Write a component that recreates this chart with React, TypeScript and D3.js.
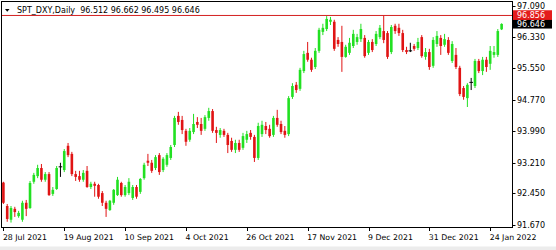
import React from 'react';
import * as d3 from 'd3';

const opens = [
  92.72, 92.14, 91.80, 92.07, 91.89, 91.80, 92.22, 92.09, 92.74, 92.88,
  93.08, 92.79, 92.93, 92.44, 92.56, 93.11, 93.03, 93.63, 93.43, 92.93,
  92.88, 92.79, 93.01, 92.61, 92.69, 92.66, 92.46, 92.22, 92.04, 92.22,
  92.41, 92.71, 92.41, 92.46, 92.34, 92.61, 92.49, 92.83, 93.26, 93.21,
  93.08, 93.40, 93.03, 93.16, 93.33, 93.65, 94.37, 94.27, 94.00, 93.78,
  93.97, 94.22, 94.17, 94.05, 94.32, 94.49, 94.02, 93.90, 94.00, 93.90,
  93.75, 93.53, 93.70, 93.58, 93.78, 93.95, 93.85, 93.33, 93.92, 94.12,
  94.05, 93.90, 94.32, 94.17, 94.00, 93.92, 94.84, 95.14, 95.04, 95.48,
  95.93, 95.76, 95.58, 95.98, 96.45, 96.52, 96.70, 96.70, 96.25, 96.20,
  95.83, 95.93, 96.10, 96.20, 96.27, 96.30, 95.93, 96.20, 96.15, 96.32,
  96.47, 96.42, 95.95, 96.60, 96.55, 96.42, 96.00, 95.98, 96.10, 96.05,
  96.32, 95.83, 95.95, 95.61, 96.15, 96.30, 96.13, 96.25, 95.73, 95.88,
  95.56, 95.06, 94.81, 95.20, 95.11, 95.73, 95.48, 95.76, 95.66, 95.88,
  95.88, 96.512,
];
const highs = [
  92.74, 92.19, 92.14, 92.12, 92.02, 92.27, 92.29, 92.76, 92.96, 93.16,
  93.18, 92.98, 92.98, 92.61, 93.13, 93.21, 93.55, 93.70, 93.48, 93.01,
  93.01, 93.03, 93.13, 92.74, 92.74, 92.69, 92.51, 92.27, 92.29, 92.56,
  92.86, 92.74, 92.66, 92.83, 92.66, 92.66, 92.83, 93.21, 93.43, 93.28,
  93.40, 93.45, 93.35, 93.45, 93.65, 94.37, 94.47, 94.37, 94.05, 94.07,
  94.42, 94.34, 94.32, 94.39, 94.57, 94.54, 94.10, 94.07, 94.05, 93.95,
  93.83, 93.78, 93.78, 93.95, 94.00, 94.02, 93.90, 94.20, 94.25, 94.22,
  94.15, 94.37, 94.52, 94.25, 94.12, 94.86, 95.18, 95.21, 95.56, 95.98,
  96.20, 95.81, 96.05, 96.55, 96.65, 96.84, 96.82, 96.75, 96.32, 96.60,
  96.13, 96.30, 96.50, 96.40, 96.65, 96.37, 96.25, 96.27, 96.47, 96.62,
  96.86, 96.47, 96.62, 96.65, 96.65, 96.50, 96.08, 96.18, 96.15, 96.30,
  96.37, 96.05, 96.03, 96.32, 96.47, 96.37, 96.40, 96.32, 96.22, 96.05,
  95.61, 95.11, 95.18, 95.31, 95.78, 95.78, 95.83, 95.83, 96.10, 96.10,
  96.52, 96.662,
];
const lows = [
  92.19, 91.75, 91.73, 91.87, 91.85, 91.75, 91.89, 92.07, 92.69, 92.83,
  92.74, 92.74, 92.39, 92.39, 92.54, 92.86, 92.98, 93.35, 92.88, 92.76,
  92.74, 92.74, 92.59, 92.56, 92.37, 92.32, 92.14, 91.87, 92.02, 92.17,
  92.39, 92.37, 92.37, 92.41, 92.29, 92.32, 92.44, 92.79, 93.13, 92.96,
  93.03, 92.91, 92.98, 93.11, 93.28, 93.60, 94.15, 93.92, 93.63, 93.73,
  93.92, 94.07, 93.90, 94.00, 94.25, 93.95, 93.70, 93.83, 93.85, 93.45,
  93.48, 93.45, 93.48, 93.53, 93.70, 93.78, 93.23, 93.28, 93.85, 93.92,
  93.83, 93.85, 94.10, 93.92, 93.83, 93.87, 94.79, 94.94, 94.99, 95.43,
  95.71, 95.46, 95.53, 95.93, 96.37, 96.47, 96.62, 95.98, 96.08, 95.46,
  95.81, 95.88, 96.05, 96.13, 96.20, 95.81, 95.88, 95.95, 96.10, 96.27,
  96.17, 95.78, 95.90, 96.40, 96.35, 95.95, 95.90, 95.95, 95.98, 96.00,
  95.81, 95.76, 95.51, 95.56, 96.08, 95.88, 96.08, 95.88, 95.68, 95.53,
  94.86, 94.77, 94.59, 95.01, 95.06, 95.43, 95.38, 95.46, 95.51, 95.81,
  95.83, 96.495,
];
const closes = [
  92.22, 91.82, 92.09, 91.99, 91.97, 92.22, 92.07, 92.71, 92.91, 93.08,
  92.79, 92.93, 92.41, 92.54, 93.08, 93.11, 93.50, 93.40, 92.93, 92.86,
  92.79, 92.96, 92.61, 92.69, 92.64, 92.37, 92.22, 92.07, 92.27, 92.54,
  92.79, 92.41, 92.61, 92.74, 92.61, 92.37, 92.81, 93.16, 93.21, 93.01,
  93.35, 92.98, 93.31, 93.40, 93.60, 94.32, 94.22, 94.02, 93.73, 94.00,
  94.17, 94.15, 94.00, 94.34, 94.49, 94.00, 93.95, 94.02, 93.90, 93.65,
  93.53, 93.70, 93.53, 93.87, 93.92, 93.85, 93.33, 94.12, 94.15, 94.02,
  93.87, 94.32, 94.15, 93.97, 93.90, 94.81, 95.11, 95.01, 95.51, 95.90,
  95.76, 95.51, 95.98, 96.50, 96.55, 96.77, 96.75, 96.03, 96.15, 95.83,
  96.08, 96.18, 96.40, 96.32, 96.52, 95.85, 96.20, 96.00, 96.40, 96.55,
  96.25, 95.83, 96.57, 96.47, 96.42, 96.00, 95.95, 95.98, 96.03, 96.20,
  95.85, 95.95, 95.58, 96.25, 96.35, 96.10, 96.27, 95.93, 96.15, 95.58,
  94.91, 94.84, 95.14, 95.20, 95.73, 95.48, 95.76, 95.58, 95.98, 95.95,
  96.47, 96.646,
];

const xTickLabels = [
  '28 Jul 2021', '19 Aug 2021', '10 Sep 2021', '4 Oct 2021', '26 Oct 2021',
  '17 Nov 2021', '9 Dec 2021', '31 Dec 2021', '24 Jan 2022',
];
const xTickBars = [0, 16, 32, 48, 64, 80, 96, 112, 128];
const yTicks = [97.09, 96.33, 95.55, 94.77, 93.99, 93.21, 92.45, 91.67];
const levelPrice = 96.856;
const bidPrice = 96.646;
const symbolTitle = 'SPT_DXY,Daily';

const W = 556;
const H = 250;
const UP = '#22e022';
const DOWN = '#e01414';
const FONT = 'DejaVu Sans, Verdana, sans-serif';

export default function App() {
  const x = d3.scaleLinear().domain([0, 128]).range([3.4, 490.2]);
  const y = d3.scaleLinear().domain([91.67, 97.09]).range([225, 6]);
  const n = closes.length;
  const idx = d3.range(n);
  const bodyW = 2.6;
  const fmt = d3.format('.3f');
  const titleText = `${symbolTitle}  ${fmt(opens[n - 1])} ${fmt(highs[n - 1])} ${fmt(lows[n - 1])} ${fmt(closes[n - 1])}`;

  return (
    <div style={{ position: 'fixed', left: 0, top: 0, width: W, height: H }}>
      <svg width={W} height={H} style={{ display: 'block', background: '#fff' }}>
        <rect x={0} y={0} width={W} height={H} fill="#fff" />
        <rect x={0} y={246.5} width={W} height={3.5} fill="#ececec" />
        {/* candles */}
        {idx.map((i) => {
          const o = opens[i], c = closes[i], h = highs[i], l = lows[i];
          const cx = x(i);
          const doji = o === c;
          const col = doji ? '#000' : c > o ? UP : DOWN;
          const top = y(Math.max(o, c));
          const bot = y(Math.min(o, c));
          return (
            <g key={i}>
              <line x1={cx} x2={cx} y1={y(h)} y2={y(l)} stroke={col} strokeWidth={1} />
              {doji ? (
                <line x1={cx - 1.8} x2={cx + 1.8} y1={top} y2={top} stroke={col} strokeWidth={1} />
              ) : (
                <rect x={cx - bodyW / 2} y={top} width={bodyW} height={Math.max(1, bot - top)} fill={col} />
              )}
            </g>
          );
        })}
        {/* level line */}
        <line x1={2} x2={512} y1={y(levelPrice)} y2={y(levelPrice)} stroke="#d42020" strokeWidth={1} />
        {/* frame */}
        <rect x={1.5} y={1.5} width={511} height={226} fill="none" stroke="#000" strokeWidth={1} />
        {/* title */}
        <path d="M5,9 L9.5,9 L7.25,11.8 Z" fill="#000" />
        <text x={17} y={12.6} fontFamily={FONT} fontSize={8} fill="#000" style={{ whiteSpace: 'pre' }}>
          {titleText}
        </text>
        {/* right axis */}
        {yTicks.map((t) => (
          <g key={t}>
            <line x1={512.5} x2={515.5} y1={Math.round(y(t)) + 0.5} y2={Math.round(y(t)) + 0.5} stroke="#000" />
            <text x={517} y={y(t) + 2.8} fontFamily={FONT} fontSize={8} fill="#000">
              {fmt(t)}
            </text>
          </g>
        ))}
        <rect x={513} y={y(levelPrice) - 5.2} width={39} height={10} fill="#e41c1c" />
        <text x={517} y={y(levelPrice) + 2.8} fontFamily={FONT} fontSize={8} fill="#fff">
          {fmt(levelPrice)}
        </text>
        <rect x={513} y={y(bidPrice) - 4} width={39} height={8.6} fill="#000" />
        <text x={517} y={y(bidPrice) + 2.9} fontFamily={FONT} fontSize={8} fill="#fff">
          {fmt(bidPrice)}
        </text>
        {/* bottom axis */}
        {xTickBars.map((b, k) => (
          <g key={b}>
            <line x1={Math.round(x(b)) + 0.5} x2={Math.round(x(b)) + 0.5} y1={228} y2={231} stroke="#000" />
            <text x={x(b) - 0.5} y={239.8} fontFamily={FONT} fontSize={7.8} fill="#000">
              {xTickLabels[k]}
            </text>
          </g>
        ))}
      </svg>
    </div>
  );
}
